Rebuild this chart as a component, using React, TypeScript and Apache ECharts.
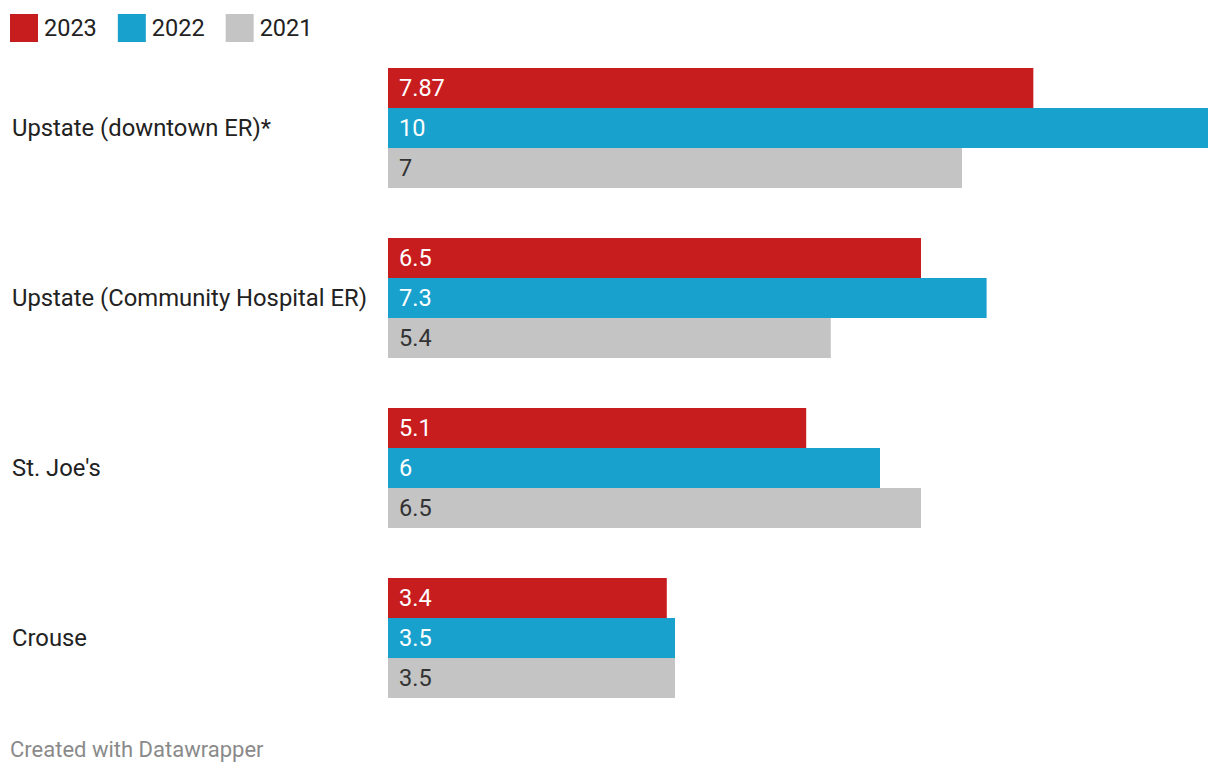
import React, { useEffect, useRef } from "react";
import * as echarts from "echarts";

const categories = [
  "Upstate (downtown ER)*",
  "Upstate (Community Hospital ER)",
  "St. Joe's",
  "Crouse",
];
const seriesNames = ["2023", "2022", "2021"];
const values2023 = [7.87, 6.5, 5.1, 3.4];
const values2022 = [10, 7.3, 6, 3.5];
const values2021 = [7, 5.4, 6.5, 3.5];
const colors = ["#c81d1f", "#18a1cd", "#c4c4c4"];
const labelColors = ["#ffffff", "#ffffff", "#333333"];
const footer = "Created with Datawrapper";

export default function App() {
  const ref = useRef<HTMLDivElement>(null);
  useEffect(() => {
    document.body.style.margin = "0";
    const chart = echarts.init(ref.current!, null, { renderer: "svg" });
    const data = [values2023, values2022, values2021];
    chart.setOption({
      animation: false,
      textStyle: { fontFamily: "Roboto" },
      legend: {
        left: 10,
        top: 14,
        icon: "rect",
        itemWidth: 28,
        itemHeight: 28,
        itemGap: 21,
        padding: 0,
        textStyle: { fontSize: 23.5, color: "#222", fontFamily: "Roboto", padding: [0, 0, 0, 1] },
        data: seriesNames,
      },
      grid: { left: 388, top: 43, width: 820, height: 680, containLabel: false },
      xAxis: {
        type: "value",
        min: 0,
        max: 10,
        show: false,
      },
      yAxis: {
        type: "category",
        data: categories,
        inverse: true,
        axisLine: { show: false },
        axisTick: { show: false },
        splitLine: { show: false },
        axisLabel: {
          margin: 376,
          align: "left",
          fontSize: 23.8,
          color: "#222",
          fontFamily: "Roboto",
        },
      },
      series: seriesNames.map((name, i) => ({
        name,
        type: "bar",
        data: data[i],
        barWidth: 40,
        barGap: "0%",
        itemStyle: { color: colors[i] },
        label: {
          show: true,
          position: "insideLeft",
          distance: 11,
          fontSize: 23.5,
          color: labelColors[i],
          fontFamily: "Roboto",
          formatter: (p: any) => String(p.value),
        },
      })),
      graphic: [
        {
          type: "text",
          left: 10,
          top: 738,
          style: {
            text: footer,
            fontSize: 22,
            fill: "#8a8a8a",
            fontFamily: "Roboto",
          },
        },
      ],
    });
    return () => chart.dispose();
  }, []);
  return <div ref={ref} style={{ width: 1220, height: 776 }} />;
}
